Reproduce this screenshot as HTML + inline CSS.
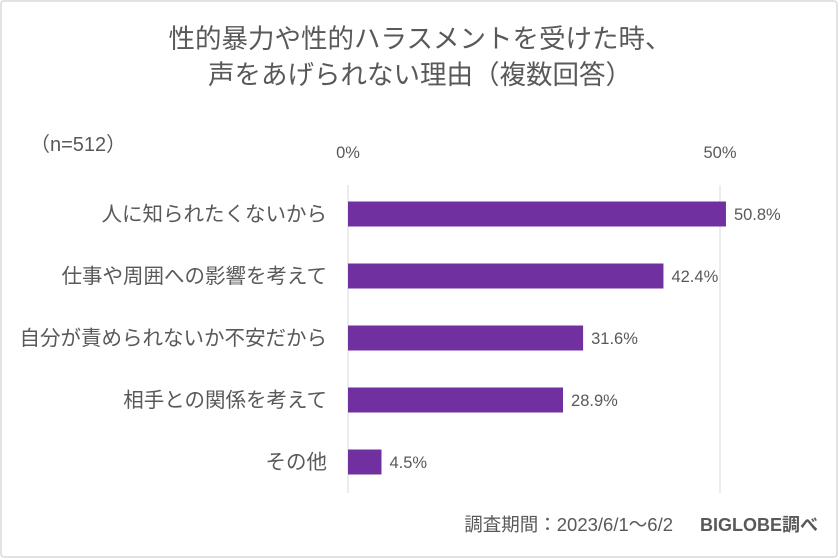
<!DOCTYPE html>
<html><head><meta charset="utf-8"><style>
html,body{margin:0;padding:0;background:#fff;}
svg{display:block;font-family:"Liberation Sans","Noto Sans CJK JP",sans-serif;}
</style></head><body>
<svg id="chart" width="840" height="560" viewBox="0 0 840 560">
<rect x="1" y="1" width="836" height="556" rx="3" fill="#fff" stroke="#d9d9d9" stroke-width="1.5"/>
<text x="420" y="48" text-anchor="middle" font-size="26.5" fill="#595959">性的暴力や性的ハラスメントを受けた時、</text>
<text x="420" y="84" text-anchor="middle" font-size="26.5" fill="#595959">声をあげられない理由（複数回答）</text>
<text x="30" y="151" font-size="20" fill="#595959">（n=512）</text>
<text x="673" y="531" text-anchor="end" font-size="18.5" fill="#595959">調査期間：2023/6/1～6/2</text>
<text x="818" y="531" text-anchor="end" font-size="18" font-weight="bold" fill="#595959">BIGLOBE調べ</text>
<g id="plot"></g>
</svg>
<script>
const categories=["人に知られたくないから","仕事や周囲への影響を考えて","自分が責められないか不安だから","相手との関係を考えて","その他"];
const values=[50.8,42.4,31.6,28.9,4.5];
const ticks=[0,50];
const tickLabels=["0%","50%"];
const NS="http://www.w3.org/2000/svg";
const g=document.getElementById('plot');
const x0=348,pxPer=7.44,yTop=185,yBot=493,yFirst=214,yStep=62,barH=25;
const xs=v=>x0+v*pxPer;
const ys=i=>yFirst+i*yStep;
function mk(t,a){const e=document.createElementNS(NS,t);for(const k in a)e.setAttribute(k,a[k]);g.appendChild(e);return e;}
ticks.forEach((t,i)=>{
 const l=mk('line',{x1:xs(t),x2:xs(t),y1:yTop,y2:yBot,stroke:'#d9d9d9','stroke-width':1});
 
 
 const tx=mk('text',{x:xs(t),y:158,'text-anchor':'middle','font-size':16.5,fill:'#595959'});
 tx.textContent=tickLabels[i];
 
 
});
categories.forEach((c,i)=>{
 const y=ys(i);
 const r=mk('rect',{x:x0,y:y-barH/2,width:xs(values[i])-x0,height:barH,fill:'#7030a0'});
 
 
 const lb=mk('text',{x:327,y:y+7,'text-anchor':'end','font-size':20.5,fill:'#595959'});
 lb.textContent=c;
 
 
 const vl=mk('text',{x:xs(values[i])+8,y:y+6,'font-size':16.5,fill:'#595959'});
 vl.textContent=values[i].toFixed(1)+'%';
 
 
});
</script>
</body></html>
